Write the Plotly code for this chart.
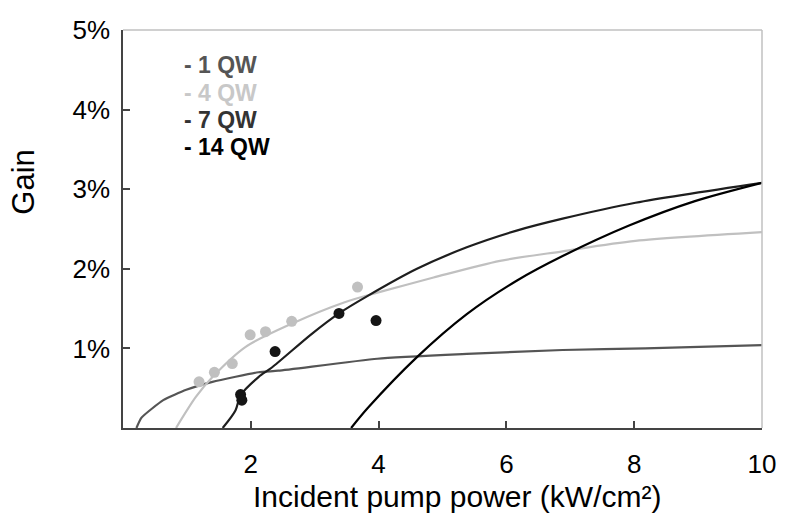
import plotly.graph_objects as go

# Curves (x in kW/cm², gain in %)
x_1qw = [0.21, 0.29, 0.63, 0.99, 1.40, 2.12, 2.43, 3.98, 5.38, 6.88, 8.17, 10.0]
g_1qw = [0.0, 0.13, 0.35, 0.48, 0.58, 0.70, 0.72, 0.87, 0.93, 0.98, 1.00, 1.04]

x_4qw = [0.83, 1.14, 1.40, 1.92, 2.64, 3.47, 3.98, 4.86, 5.90, 6.88, 8.02, 10.0]
g_4qw = [0.0, 0.39, 0.64, 1.02, 1.31, 1.58, 1.70, 1.89, 2.10, 2.22, 2.35, 2.46]

x_7qw = [1.56, 1.76, 1.84, 2.12, 2.33, 2.95, 3.38, 3.83, 4.60, 5.38, 6.16, 6.88, 8.02, 10.0]
g_7qw = [0.0, 0.22, 0.41, 0.64, 0.76, 1.18, 1.44, 1.66, 2.00, 2.27, 2.48, 2.63, 2.83, 3.08]

x_14qw = [3.57, 3.83, 4.60, 5.38, 6.16, 6.88, 7.91, 8.95, 10.0]
g_14qw = [0.0, 0.25, 0.89, 1.43, 1.85, 2.16, 2.54, 2.85, 3.08]

# Measured points
pts_gray_x = [1.19, 1.43, 1.71, 1.99, 2.23, 2.64, 3.67]
pts_gray_y = [0.58, 0.70, 0.81, 1.17, 1.21, 1.34, 1.77]
pts_black_x = [1.84, 1.86, 2.38, 3.38, 3.96]
pts_black_y = [0.42, 0.35, 0.96, 1.44, 1.35]

x_ticks = [2, 4, 6, 8, 10]
y_ticks = [1, 2, 3, 4, 5]
y_ticktext = ["1%", "2%", "3%", "4%", "5%"]

legend_labels = ["- 1 QW", "- 4 QW", "- 7 QW", "- 14 QW"]
legend_colors = ["#555555", "#c8c8c8", "#333333", "#000000"]

FONT = "Liberation Sans, Arial, sans-serif"

fig = go.Figure()
curves = [
    (x_1qw, g_1qw, "#555555", 0.5),
    (x_4qw, g_4qw, "#c0c0c0", 0.8),
    (x_7qw, g_7qw, "#1e1e1e", 0.8),
    (x_14qw, g_14qw, "#000000", 0.8),
]
for xs, ys, col, sm in curves:
    fig.add_trace(go.Scatter(x=xs, y=ys, mode="lines",
                             line=dict(color=col, width=2.2, shape="spline", smoothing=sm),
                             showlegend=False, hoverinfo="skip"))

fig.add_trace(go.Scatter(x=pts_gray_x, y=pts_gray_y, mode="markers",
                         marker=dict(color="#c0c0c0", size=11), showlegend=False,
                         hoverinfo="skip"))
fig.add_trace(go.Scatter(x=pts_black_x, y=pts_black_y, mode="markers",
                         marker=dict(color="#151515", size=11), showlegend=False,
                         hoverinfo="skip"))

annotations = []
legend_y = [0.912, 0.842, 0.774, 0.706]
for lab, col, yy in zip(legend_labels, legend_colors, legend_y):
    annotations.append(dict(text="<b>%s</b>" % lab, x=0.092, y=yy, xref="paper", yref="paper",
                            xanchor="left", yanchor="middle", showarrow=False,
                            font=dict(family=FONT, size=23, color=col)))
annotations.append(dict(text="Incident pump power (kW/cm²)", x=0.523, y=-0.173,
                        xref="paper", yref="paper", xanchor="center", yanchor="middle",
                        showarrow=False, font=dict(family=FONT, size=30, color="#000000")))
annotations.append(dict(text="Gain", x=-0.157, y=0.618, xref="paper", yref="paper",
                        xanchor="center", yanchor="middle", textangle=-90, showarrow=False,
                        font=dict(family=FONT, size=31, color="#000000")))

shapes = [
    dict(type="line", xref="paper", yref="paper", x0=0, x1=1, y0=1, y1=1,
         line=dict(color="#c0c0c0", width=1.5)),
    dict(type="line", xref="paper", yref="paper", x0=1, x1=1, y0=0, y1=1,
         line=dict(color="#c0c0c0", width=1.5)),
]

fig.update_layout(
    width=788, height=515,
    margin=dict(l=123, r=20, t=30, b=87),
    paper_bgcolor="white", plot_bgcolor="white",
    annotations=annotations, shapes=shapes,
    hovermode=False,
    font=dict(family=FONT, size=26, color="#000000"),
    xaxis=dict(range=[0, 10], tickvals=x_ticks, ticks="inside", ticklen=7, tickwidth=1.5,
               tickcolor="#444444", showline=True, linecolor="#444444", linewidth=1.5,
               showgrid=False, zeroline=False, ticklabelstandoff=12,
               ticklabeloverflow="allow", tickfont=dict(family=FONT, size=26)),
    yaxis=dict(range=[0, 5], tickvals=y_ticks, ticktext=y_ticktext, ticks="inside", ticklen=7,
               tickwidth=1.5, tickcolor="#444444", showline=True, linecolor="#444444",
               linewidth=1.5, showgrid=False, zeroline=False, ticklabelstandoff=6,
               tickfont=dict(family=FONT, size=26)),
)

fig.write_html("out.html", config={"displayModeBar": False},
               post_script="document.body.style.margin='0';document.body.style.overflow='hidden';")
